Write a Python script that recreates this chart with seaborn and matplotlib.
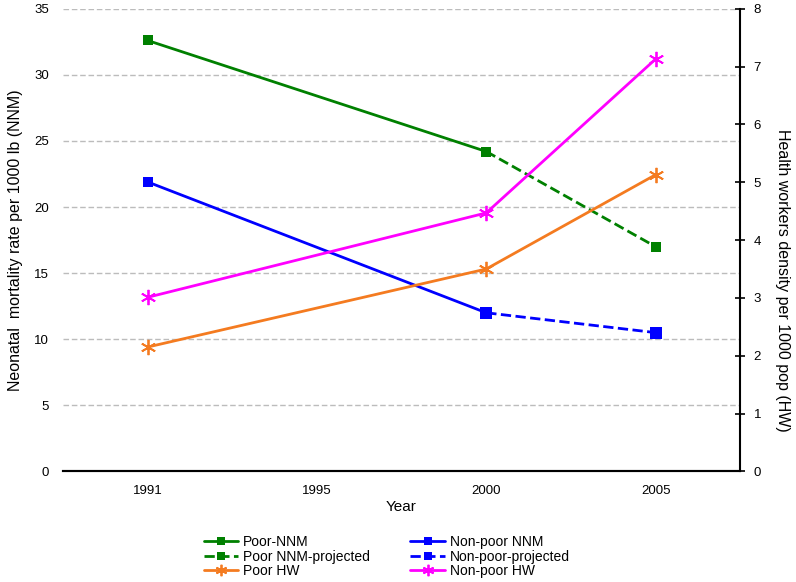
import numpy as np
import pandas as pd
import matplotlib
matplotlib.use("Agg")
import matplotlib.pyplot as plt
import seaborn as sns

# category axis (1995 has no data, it is only a slot on the axis)
years = ["1991", "1995", "2000", "2005"]

# neonatal mortality per 1000 lb (left axis)
poor_nnm_years = ["1991", "2000"]
poor_nnm = [32.6, 24.2]
poor_nnm_proj_years = ["2000", "2005"]
poor_nnm_proj = [24.2, 17.0]
nonpoor_nnm_years = ["1991", "2000"]
nonpoor_nnm = [21.9, 12.0]
nonpoor_nnm_proj_years = ["2000", "2005"]
nonpoor_nnm_proj = [12.0, 10.5]

# health workers density per 1000 pop (right axis)
hw_years = ["1991", "2000", "2005"]
poor_hw = [2.15, 3.50, 5.13]
nonpoor_hw = [3.01, 4.47, 7.13]

green = "#008000"
blue = "#0000FF"
orange = "#F47B20"
magenta = "#FF00FF"
star = (6, 2, 0)

sns.set_style("white")
plt.rcParams["font.family"] = ["Liberation Sans", "DejaVu Sans"]
plt.rcParams["text.color"] = "black"
plt.rcParams["axes.labelcolor"] = "black"
plt.rcParams["xtick.color"] = "black"
plt.rcParams["ytick.color"] = "black"


def pos(yrs):
    """map year labels onto category positions"""
    return [years.index(y) for y in yrs]


fig, ax = plt.subplots(figsize=(7.96, 5.82), dpi=100)
fig.subplots_adjust(left=0.079, right=0.93, top=0.985, bottom=0.19)
ax2 = ax.twinx()

sns.lineplot(x=pos(poor_nnm_years), y=poor_nnm, ax=ax, color=green,
             marker="s", markersize=7, markeredgewidth=0, lw=2,
             label="Poor-NNM", legend=False)
sns.lineplot(x=pos(poor_nnm_proj_years), y=poor_nnm_proj, ax=ax, color=green,
             marker="s", markersize=7, markeredgewidth=0, lw=2,
             linestyle="--", label="Poor NNM-projected", legend=False)
sns.lineplot(x=pos(nonpoor_nnm_years), y=nonpoor_nnm, ax=ax, color=blue,
             marker="s", markersize=7, markeredgewidth=0, lw=2,
             label="Non-poor NNM", legend=False)
sns.lineplot(x=pos(nonpoor_nnm_proj_years), y=nonpoor_nnm_proj, ax=ax,
             color=blue, marker="s", markersize=8, markeredgewidth=0, lw=2,
             linestyle="--", label="Non-poor-projected", legend=False)
sns.lineplot(x=pos(hw_years), y=poor_hw, ax=ax2, color=orange,
             marker=star, markersize=11, markeredgewidth=1.3,
             markeredgecolor=orange, lw=2, label="Poor HW", legend=False)
sns.lineplot(x=pos(hw_years), y=nonpoor_hw, ax=ax2, color=magenta,
             marker=star, markersize=11, markeredgewidth=1.3,
             markeredgecolor=magenta, lw=2, label="Non-poor HW", legend=False)

# left axis
ax.set_ylim(0, 35)
ax.set_yticks(np.arange(0, 36, 5))
ax.set_xlim(-0.5, 3.5)
ax.set_xticks(range(len(years)))
ax.set_xticklabels(years)
ax.yaxis.grid(True, color="#bcbcbc", linestyle=(0, (4, 2)), lw=1)
ax.set_axisbelow(True)
ax.set_ylabel("Neonatal  mortality rate per 1000 lb (NNM)", fontsize=11.5,
              labelpad=8)
ax.set_xlabel("Year", fontsize=11, labelpad=2)
ax.tick_params(axis="y", length=0, labelsize=9.5, pad=10)
ax.tick_params(axis="x", direction="inout", length=6, width=1.2,
               labelsize=9.5, pad=7)

# right axis
ax2.set_ylim(0, 8)
ax2.set_yticks(range(0, 9))
ax2.tick_params(axis="y", direction="inout", length=7, width=1.2,
                labelsize=9.5, pad=6)
ax2.set_ylabel("Health workers density per 1000 pop (HW)", fontsize=11.5,
               rotation=270, va="center")
ax2.yaxis.set_label_coords(1.062, 0.413)

for a in (ax, ax2):
    for s in ("top", "left"):
        a.spines[s].set_visible(False)
    a.spines["bottom"].set_color("black")
    a.spines["bottom"].set_linewidth(1.5)
ax2.spines["right"].set_visible(True)
ax2.spines["right"].set_color("black")
ax2.spines["right"].set_linewidth(1.5)
ax.spines["right"].set_visible(False)

h1, l1 = ax.get_legend_handles_labels()
h2, l2 = ax2.get_legend_handles_labels()
order = [h1[0], h1[1], h2[0], h1[2], h1[3], h2[1]]
labels = [l1[0], l1[1], l2[0], l1[2], l1[3], l2[1]]
fig.legend(order, labels, loc="lower center", bbox_to_anchor=(0.486, -0.015),
           ncol=2, frameon=False, fontsize=10, handlelength=2.5,
           labelspacing=0.05, columnspacing=2.9, handletextpad=0.35,
           markerscale=0.75)

plt.savefig("out.png", dpi=100)
